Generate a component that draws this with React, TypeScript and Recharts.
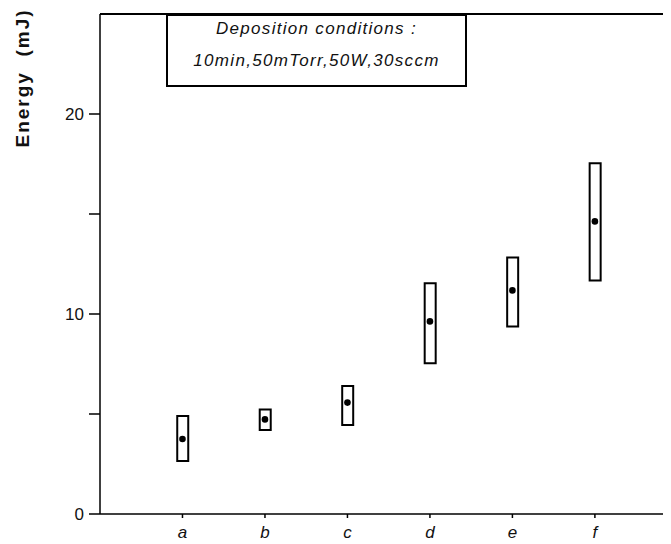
import React from 'react';
import { ComposedChart, Bar, Scatter, XAxis, YAxis, ReferenceLine } from 'recharts';

const categories = ['a', 'b', 'c', 'd', 'e', 'f'];
const positions = [1, 2, 3, 4, 5, 6];
const lows = [2.65, 4.2, 4.45, 7.54, 9.38, 11.68];
const highs = [4.9, 5.23, 6.4, 11.54, 12.83, 17.54];
const means = [3.75, 4.73, 5.57, 9.63, 11.18, 14.63];
const yTicks = [0, 5, 10, 15, 20];
const yLabeled = [0, 10, 20];
const noteLines = ['Deposition conditions :', '10min,50mTorr,50W,30sccm'];
const yTitle = 'Energy  (mJ)';

const data = categories.map((c, i) => ({
  pos: positions[i],
  cat: c,
  range: [lows[i], highs[i]],
  mean: means[i],
}));

const FONT = '"Liberation Sans", Arial, Helvetica, sans-serif';

const YTick = (props: any) => {
  const { x, y, payload } = props;
  if (!yLabeled.includes(payload.value)) return null;
  return (
    <text x={x} y={y} textAnchor="end" dominantBaseline="central" fontSize={17} fill="#111" fontFamily={FONT}>
      {payload.value}
    </text>
  );
};

const XTick = (props: any) => {
  const { x, y, payload } = props;
  return (
    <text x={x} y={y + 12} textAnchor="middle" dominantBaseline="central" fontSize={17} fontStyle="italic" fill="#111" fontFamily={FONT}>
      {categories[payload.value - 1]}
    </text>
  );
};

const YTitle = () => (
  <text
    x={14}
    y={70}
    transform="rotate(-90, 14, 70)"
    textAnchor="middle"
    dominantBaseline="central"
    fontSize={19}
    fontWeight="bold"
    letterSpacing={2}
    fill="#111"
    fontFamily={FONT}
    style={{ whiteSpace: 'pre' }}
  >
    {yTitle}
  </text>
);

const Dot = (props: any) => {
  const { cx, cy } = props;
  return <circle cx={cx} cy={cy} r={3.3} fill="#000" />;
};

export default function App() {
  return (
    <div style={{ position: 'relative', width: 663, height: 536, overflow: 'hidden' }}>
      <ComposedChart
        width={690}
        height={536}
        data={data}
        margin={{ top: 6, right: 0, bottom: 0, left: 0 }}
      >
        <XAxis
          dataKey="pos"
          type="number"
          domain={[0, 7.25]}
          ticks={positions}
          allowDataOverflow
          height={30}
          tickSize={4}
          stroke="#000"
          strokeWidth={1.5}
          tick={<XTick />}
        />
        <YAxis
          type="number"
          domain={[0, 25]}
          ticks={yTicks}
          allowDataOverflow
          width={92}
          tickSize={11}
          tickMargin={5}
          stroke="#000"
          strokeWidth={1.5}
          tick={<YTick />}
        />
        <ReferenceLine y={25} stroke="#000" strokeWidth={2} ifOverflow="visible" />
        <Bar dataKey="range" barSize={11} fill="#fff" stroke="#000" strokeWidth={2} isAnimationActive={false} />
        <Scatter dataKey="mean" shape={<Dot />} isAnimationActive={false} />
        <YTitle />
      </ComposedChart>
      <div
        style={{
          position: 'absolute',
          left: 158,
          top: 6,
          width: 297,
          height: 69,
          border: '2px solid #000',
          fontFamily: FONT,
          fontStyle: 'italic',
          fontSize: 17,
          letterSpacing: 1.3,
          color: '#111',
          textAlign: 'center',
          boxSizing: 'content-box',
          lineHeight: '32px',
        }}
      >
        <div style={{ marginTop: -3 }}>{noteLines[0]}</div>
        <div>{noteLines[1]}</div>
      </div>
    </div>
  );
}
